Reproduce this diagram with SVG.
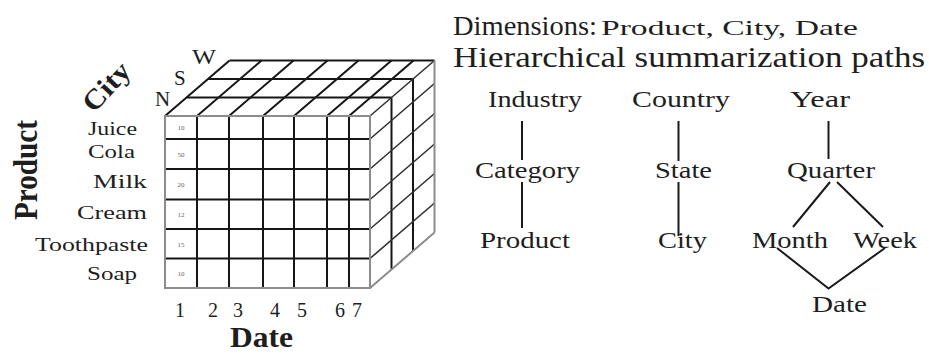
<svg xmlns="http://www.w3.org/2000/svg" width="929" height="354" viewBox="0 0 929 354" font-family="'Liberation Serif', Tinos, 'Times New Roman', Times, 'Nimbus Roman', serif">
<style>
text{font-family:'Liberation Serif',Tinos,'Times New Roman',Times,'Nimbus Roman',serif;fill:#1e1e1e}
.lbl{font-size:19px}
.hl{font-size:23px}
.num{font-size:20px}
.tiny{font-size:7px;fill:#666;text-anchor:middle}
.ax{font-weight:bold}
.g{stroke:#8c8c8c;stroke-width:2;fill:none}
.k{stroke:#161616;stroke-width:2;fill:none}
.m{stroke:#333;stroke-width:1.6;fill:none}
.c{stroke:#1a1a1a;stroke-width:2;fill:none}
</style>
<rect width="929" height="354" fill="#fff"/>
<g id="cube">
  <g class="k">
    <path d="M186.5 97.5H391.5M208 79H413M229.5 60.5H434.5"/>
    <path d="M165 116L229.5 60.5M197 116L261.5 60.5M229 116L293.5 60.5M263 116L327.5 60.5M294 116L358.5 60.5M327 116L391.5 60.5M349 116L413.5 60.5"/>
  </g>
  <g class="k">
    <path d="M391.5 97.5V269.5M413 79V251"/>
  </g>
  <g class="m">
    <path d="M370 116L434.5 60.5M370 139L434.5 83.5M370 169L434.5 113.5M370 199.5L434.5 144M370 229L434.5 173.5M370 258.5L434.5 203"/>
  </g>
  <g class="g">
    <path d="M434.5 60.5V232.5M370 288L434.5 232.5"/>
  </g>
  <g class="k">
    <path d="M197 116V288M229 116V288M263 116V288M294 116V288M327 116V288M349 116V288"/>
    <path d="M165 139H370M165 169H370M165 199.5H370M165 229H370M165 258.5H370"/>
  </g>
  <rect class="g" x="165" y="116" width="205" height="172"/>
  <g>
    <text class="tiny" x="181" y="130">10</text>
    <text class="tiny" x="181" y="156.5">50</text>
    <text class="tiny" x="181" y="187">20</text>
    <text class="tiny" x="181" y="217">12</text>
    <text class="tiny" x="181" y="246.5">15</text>
    <text class="tiny" x="181" y="276">10</text>
  </g>
</g>
<g id="axis-city">
  <text class="ax" font-size="28" text-anchor="middle" transform="translate(113,93) rotate(-47) scale(1.1,1)">City</text>
  <text font-size="21" x="155" y="106">N</text>
  <text font-size="21" x="174" y="85">S</text>
  <text font-size="21" x="192" y="64" textLength="24" lengthAdjust="spacingAndGlyphs">W</text>
</g>
<g id="axis-product">
  <text class="ax" font-size="29" text-anchor="middle" transform="translate(37,170) rotate(-90) scale(1,1.15)" textLength="100" lengthAdjust="spacingAndGlyphs">Product</text>
  <text class="lbl" x="88" y="135" textLength="49" lengthAdjust="spacingAndGlyphs">Juice</text>
  <text class="lbl" x="88" y="158" textLength="47" lengthAdjust="spacingAndGlyphs">Cola</text>
  <text class="lbl" x="93" y="188" textLength="54" lengthAdjust="spacingAndGlyphs">Milk</text>
  <text class="lbl" x="77" y="219" textLength="70" lengthAdjust="spacingAndGlyphs">Cream</text>
  <text class="lbl" x="35" y="251" textLength="113" lengthAdjust="spacingAndGlyphs">Toothpaste</text>
  <text class="lbl" x="87" y="280" textLength="50" lengthAdjust="spacingAndGlyphs">Soap</text>
</g>
<g id="axis-date">
  <text class="num" x="180" y="316.5" text-anchor="middle">1</text>
  <text class="num" x="213" y="316.5" text-anchor="middle">2</text>
  <text class="num" x="238" y="316.5" text-anchor="middle">3</text>
  <text class="num" x="275" y="316.5" text-anchor="middle">4</text>
  <text class="num" x="302" y="316.5" text-anchor="middle">5</text>
  <text class="num" x="340" y="316.5" text-anchor="middle">6</text>
  <text class="num" x="357" y="316.5" text-anchor="middle">7</text>
  <text class="ax" font-size="29" x="230" y="347" textLength="63" lengthAdjust="spacingAndGlyphs">Date</text>
</g>
<g id="title">
  <text font-size="28" x="453" y="35" textLength="144" lengthAdjust="spacingAndGlyphs">Dimensions:</text>
  <text font-size="22" x="601" y="35" textLength="257" lengthAdjust="spacingAndGlyphs">Product, City, Date</text>
  <text font-size="30" x="453" y="67" textLength="472" lengthAdjust="spacingAndGlyphs">Hierarchical summarization paths</text>
</g>
<g id="connectors">
  <path class="c" d="M522 121V160M522 182V228"/>
  <path class="c" d="M678.5 121V161M678.5 182V236"/>
  <path class="c" d="M828.5 121V159"/>
  <path class="c" d="M830 182L793 227M837 182L883 227"/>
  <path class="c" d="M777 248L828.5 288.5L885 248"/>
</g>
<g id="n-industry"><text class="hl" x="488" y="107" textLength="94" lengthAdjust="spacingAndGlyphs">Industry</text></g>
<g id="n-country"><text class="hl" x="632" y="107" textLength="98" lengthAdjust="spacingAndGlyphs">Country</text></g>
<g id="n-year"><text class="hl" x="790" y="107" textLength="60" lengthAdjust="spacingAndGlyphs">Year</text></g>
<g id="n-category"><text class="hl" x="475" y="178" textLength="105" lengthAdjust="spacingAndGlyphs">Category</text></g>
<g id="n-state"><text class="hl" x="655" y="178" textLength="57" lengthAdjust="spacingAndGlyphs">State</text></g>
<g id="n-quarter"><text class="hl" x="787" y="178" textLength="88" lengthAdjust="spacingAndGlyphs">Quarter</text></g>
<g id="n-product"><text class="hl" x="480" y="248" textLength="90" lengthAdjust="spacingAndGlyphs">Product</text></g>
<g id="n-city"><text class="hl" x="658" y="248" textLength="49" lengthAdjust="spacingAndGlyphs">City</text></g>
<g id="n-month"><text class="hl" x="752" y="248" textLength="76" lengthAdjust="spacingAndGlyphs">Month</text></g>
<g id="n-week"><text class="hl" x="853" y="248" textLength="64" lengthAdjust="spacingAndGlyphs">Week</text></g>
<g id="n-date"><text class="hl" x="812" y="312" textLength="55" lengthAdjust="spacingAndGlyphs">Date</text></g>
</svg>
